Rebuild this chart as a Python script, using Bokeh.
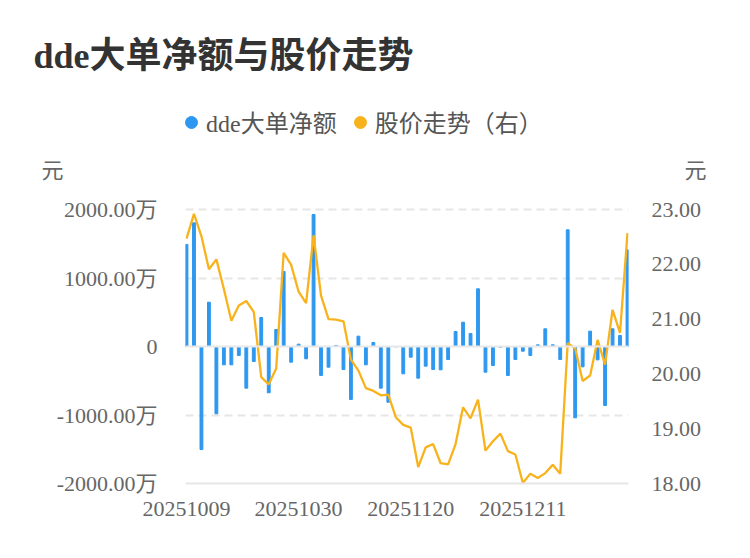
from bokeh.plotting import figure
from bokeh.models import (Range1d, LinearAxis, FixedTicker, NumeralTickFormatter,
                          Legend, LegendItem, Span)
from bokeh.embed import file_html
from bokeh.resources import INLINE

dates = ["20251009", "20251010", "20251013", "20251014", "20251015", "20251016", "20251017",
         "20251020", "20251021", "20251022", "20251023", "20251024", "20251027", "20251028",
         "20251029", "20251030", "20251031",
         "20251103", "20251104", "20251105", "20251106", "20251107", "20251110", "20251111",
         "20251112", "20251113", "20251114", "20251117", "20251118", "20251119", "20251120",
         "20251121", "20251124", "20251125", "20251126", "20251127", "20251128",
         "20251201", "20251202", "20251203", "20251204", "20251205", "20251208", "20251209",
         "20251210", "20251211", "20251212", "20251215", "20251216", "20251217", "20251218",
         "20251219", "20251222", "20251223", "20251224", "20251225", "20251226", "20251229",
         "20251230", "20251231"]

dde_net = [1490, 1805, -1504, 647, -983, -268, -268, -131, -608, -219,
           423, -676, 248, 1095, -229, 34, -180, 1927, -423, -302,
           15, -336, -774, 151, -268, 58, -608, -813, -5, -399,
           -156, -462, -287, -336, -341, -190, 219, 355, 190, 842,
           -375, -277, -10, -423, -190, -68, -131, 24, 258, 24,
           -190, 1703, -1041, -297, 224, -195, -861, 258, 161, 1411]

price = [22.47, 22.92, 22.51, 21.91, 22.09, 21.55, 20.97, 21.25, 21.33, 21.13,
         19.94, 19.81, 20.10, 22.21, 21.99, 21.50, 21.29, 22.53, 21.43, 21.00,
         20.99, 20.96, 20.26, 20.06, 19.74, 19.69, 19.61, 19.62, 19.21, 19.07,
         19.02, 18.30, 18.66, 18.72, 18.37, 18.35, 18.72, 19.39, 19.19, 19.53,
         18.60, 18.77, 18.91, 18.59, 18.53, 18.01, 18.18, 18.10, 18.19, 18.34,
         18.18, 20.56, 20.47, 19.87, 19.97, 20.62, 20.17, 21.17, 20.75, 22.57]

left_ticks = [-2000, -1000, 0, 1000, 2000]
left_labels = ["-2000.00万", "-1000.00万", "0", "1000.00万", "2000.00万"]
right_ticks = [18, 19, 20, 21, 22, 23]
x_tick_idx = [0, 15, 30, 45]

title_text = "dde大单净额与股价走势"
series_names = ["dde大单净额", "股价走势（右）"]
unit_text = "元"

BLUE = "#2e98f0"
ORANGE = "#f8b31c"
FONT = "'Liberation Serif', 'Noto Sans CJK SC'"
TXT = "#666666"

# ---- layout constants (pixels) ----
W, H = 742, 548
F_LEFT, F_RIGHT = 185, 628
F_TOP, F_BOT = 95, 483          # frame extends up to hold legend and unit labels
Y_TOP_TICK = 209                 # pixel of the 2000 / 23.00 tick
UNIT_Y = 170                     # pixel row of the unit labels
LEG_Y = 124                      # pixel row of the legend

px_per_left = (F_BOT - Y_TOP_TICK) / 4000.0      # px per 万
px_per_right = (F_BOT - Y_TOP_TICK) / 5.0        # px per 元
left_top = -2000 + (F_BOT - F_TOP) / px_per_left
right_top = 18 + (F_BOT - F_TOP) / px_per_right
unit_val_left = -2000 + (F_BOT - UNIT_Y) / px_per_left
unit_val_right = 18 + (F_BOT - UNIT_Y) / px_per_right

idx = list(range(len(dates)))

p = figure(width=W, height=H, output_backend="svg", toolbar_location=None,
           x_range=Range1d(-0.134, len(dates) - 1 + 0.134),
           y_range=Range1d(-2000, left_top))
p.min_border_left = F_LEFT
p.min_border_right = W - F_RIGHT
p.min_border_top = F_TOP
p.min_border_bottom = H - F_BOT
p.outline_line_color = None
p.extra_y_ranges = {"price": Range1d(18, right_top)}

p.title.text = title_text
p.title.align = "left"
p.title.offset = 33 - F_LEFT
p.title.text_font = FONT
p.title.text_font_size = "36px"
p.title.text_font_style = "bold"
p.title.text_color = "#333333"
p.title.standoff = 40

p.xgrid.grid_line_color = None
p.ygrid.ticker = FixedTicker(ticks=[-1000, 1000, 2000])
p.ygrid.grid_line_color = "#e6e6e6"
p.ygrid.grid_line_width = 2
p.ygrid.grid_line_dash = "8 5"

p.add_layout(Span(location=0, dimension="width", line_color="#e8e8e8", line_width=2))

p.vbar(x=idx, top=dde_net, bottom=0, width=0.38, color=BLUE)
p.line(x=idx, y=price, y_range_name="price", line_color=ORANGE, line_width=2.3)


def style_axis(ax, standoff):
    ax.axis_line_color = None
    ax.major_tick_line_color = None
    ax.minor_tick_line_color = None
    ax.major_label_standoff = standoff
    ax.major_label_text_font = FONT
    ax.major_label_text_font_size = "22px"
    ax.major_label_text_color = TXT


ya = p.yaxis[0]
ya.ticker = FixedTicker(ticks=left_ticks)
ya.major_label_overrides = {t: l for t, l in zip(left_ticks, left_labels)}
style_axis(ya, 22)

# unit label on the left, as an outer axis
ua = LinearAxis(ticker=FixedTicker(ticks=[unit_val_left]))
ua.major_label_overrides = {unit_val_left: unit_text}
style_axis(ua, -16)
p.add_layout(ua, "left")

ra = LinearAxis(y_range_name="price", ticker=FixedTicker(ticks=right_ticks),
                formatter=NumeralTickFormatter(format="0.00"))
style_axis(ra, 17)
p.add_layout(ra, "right")

# unit label on the right, as an outer axis
ub = LinearAxis(y_range_name="price", ticker=FixedTicker(ticks=[unit_val_right]))
ub.major_label_overrides = {unit_val_right: unit_text}
style_axis(ub, -26)
p.add_layout(ub, "right")

xa = p.xaxis[0]
xa.ticker = FixedTicker(ticks=x_tick_idx)
xa.major_label_overrides = {i: dates[i] for i in x_tick_idx}
style_axis(xa, 12)
xa.axis_line_color = "#e6e6e6"
xa.axis_line_width = 2

# legend swatches: renderers holding a single hidden (NaN) point
d1 = p.scatter(x=[idx[0]], y=[float("nan")], marker="circle", color=BLUE)
d2 = p.scatter(x=[idx[0]], y=[float("nan")], marker="circle", color=ORANGE)
legend = Legend(items=[LegendItem(label=series_names[0], renderers=[d1]),
                       LegendItem(label=series_names[1], renderers=[d2])],
                orientation="horizontal", location=(-9, F_BOT - LEG_Y - 15),
                glyph_width=30, glyph_height=30, label_standoff=0, spacing=8,
                padding=0, margin=0, border_line_color=None, background_fill_alpha=0,
                label_text_font=FONT, label_text_font_size="24px",
                label_text_color="#555555", label_text_baseline="middle",
                label_height=30)
p.add_layout(legend, "center")

open("out.html", "w").write(file_html(p, INLINE))
